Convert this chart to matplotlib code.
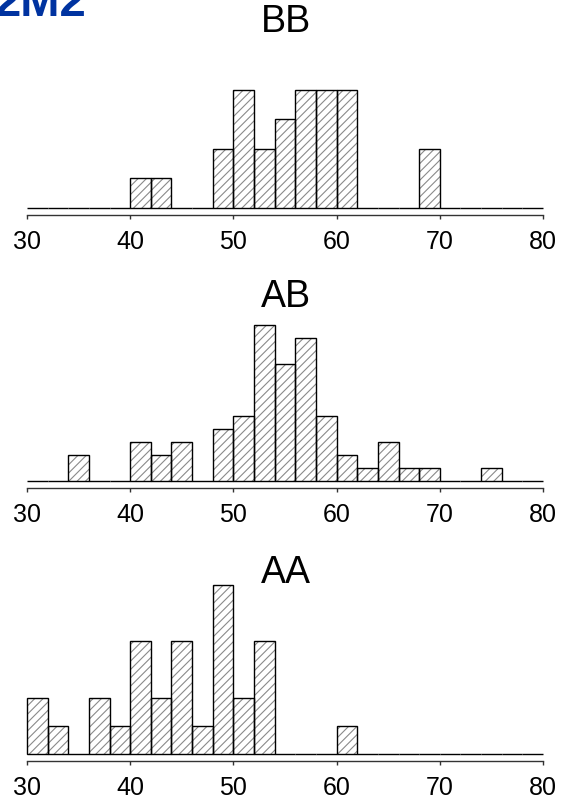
import numpy as np
import matplotlib
matplotlib.use("Agg")
import matplotlib.pyplot as plt

plt.rcParams['font.family'] = ['Liberation Sans', 'DejaVu Sans']
plt.rcParams['hatch.linewidth'] = 0.8

# Bin edges (width 2) from 30 to 80
bin_edges = list(range(30, 82, 2))
bin_left = bin_edges[:-1]

# counts per bin (30-32, 32-34, ..., 78-80)
bb_counts = [0, 0, 0, 0, 0, 1, 1, 0, 0, 2, 4, 2, 3, 4, 4, 4, 0, 0, 0, 2, 0, 0, 0, 0, 0]
ab_counts = [0, 0, 2, 0, 0, 3, 2, 3, 0, 4, 5, 12, 9, 11, 5, 2, 1, 3, 1, 1, 0, 0, 1, 0, 0]
aa_counts = [2, 1, 0, 2, 1, 4, 2, 4, 1, 6, 2, 4, 0, 0, 0, 1, 0, 0, 0, 0, 0, 0, 0, 0, 0]

titles = ["BB", "AB", "AA"]
xticks = [30, 40, 50, 60, 70, 80]

W, H = 561, 802
fig = plt.figure(figsize=(W / 100, H / 100), dpi=100)

# panel pixel geometry: (top of max bar, baseline, title center y)
panels = [(bb_counts, 90.0, 207.7, 22.5),
          (ab_counts, 325.0, 481.0, 297.0),
          (aa_counts, 585.0, 754.0, 573.0)]

x0, x1 = 27, 543
for (counts, top, base, ty), title in zip(panels, titles):
    ax = fig.add_axes([x0 / W, 1 - base / H, (x1 - x0) / W, (base - top) / H])
    ax.bar(bin_left, counts, width=2, align='edge', color='white',
           edgecolor='#8a8a8a', linewidth=0, hatch='////', clip_on=False)
    ax.bar(bin_left, counts, width=2, align='edge', fill=False,
           edgecolor='black', linewidth=1.0, clip_on=False)
    ax.set_xlim(30, 80)
    ax.set_ylim(0, max(counts))
    for s in ['top', 'right', 'left']:
        ax.spines[s].set_visible(False)
    ax.spines['bottom'].set_position(('outward', 5))
    ax.spines['bottom'].set_bounds(30, 80)
    ax.spines['bottom'].set_color('#333333')
    ax.spines['bottom'].set_linewidth(1.0)
    ax.set_yticks([])
    ax.set_xticks(xticks)
    ax.set_xticklabels([str(t) for t in xticks], fontsize=18)
    ax.tick_params(axis='x', length=3, width=1, color='#333333', pad=8)
    fig.text(286 / W, 1 - ty / H, title, fontsize=27, ha='center', va='center')

fig.text(-6 / W, 1 - 16 / H, "2M2", fontsize=34, fontweight='bold',
         color='#0033a0', ha='left', va='baseline')

fig.savefig("out.png", dpi=100)
